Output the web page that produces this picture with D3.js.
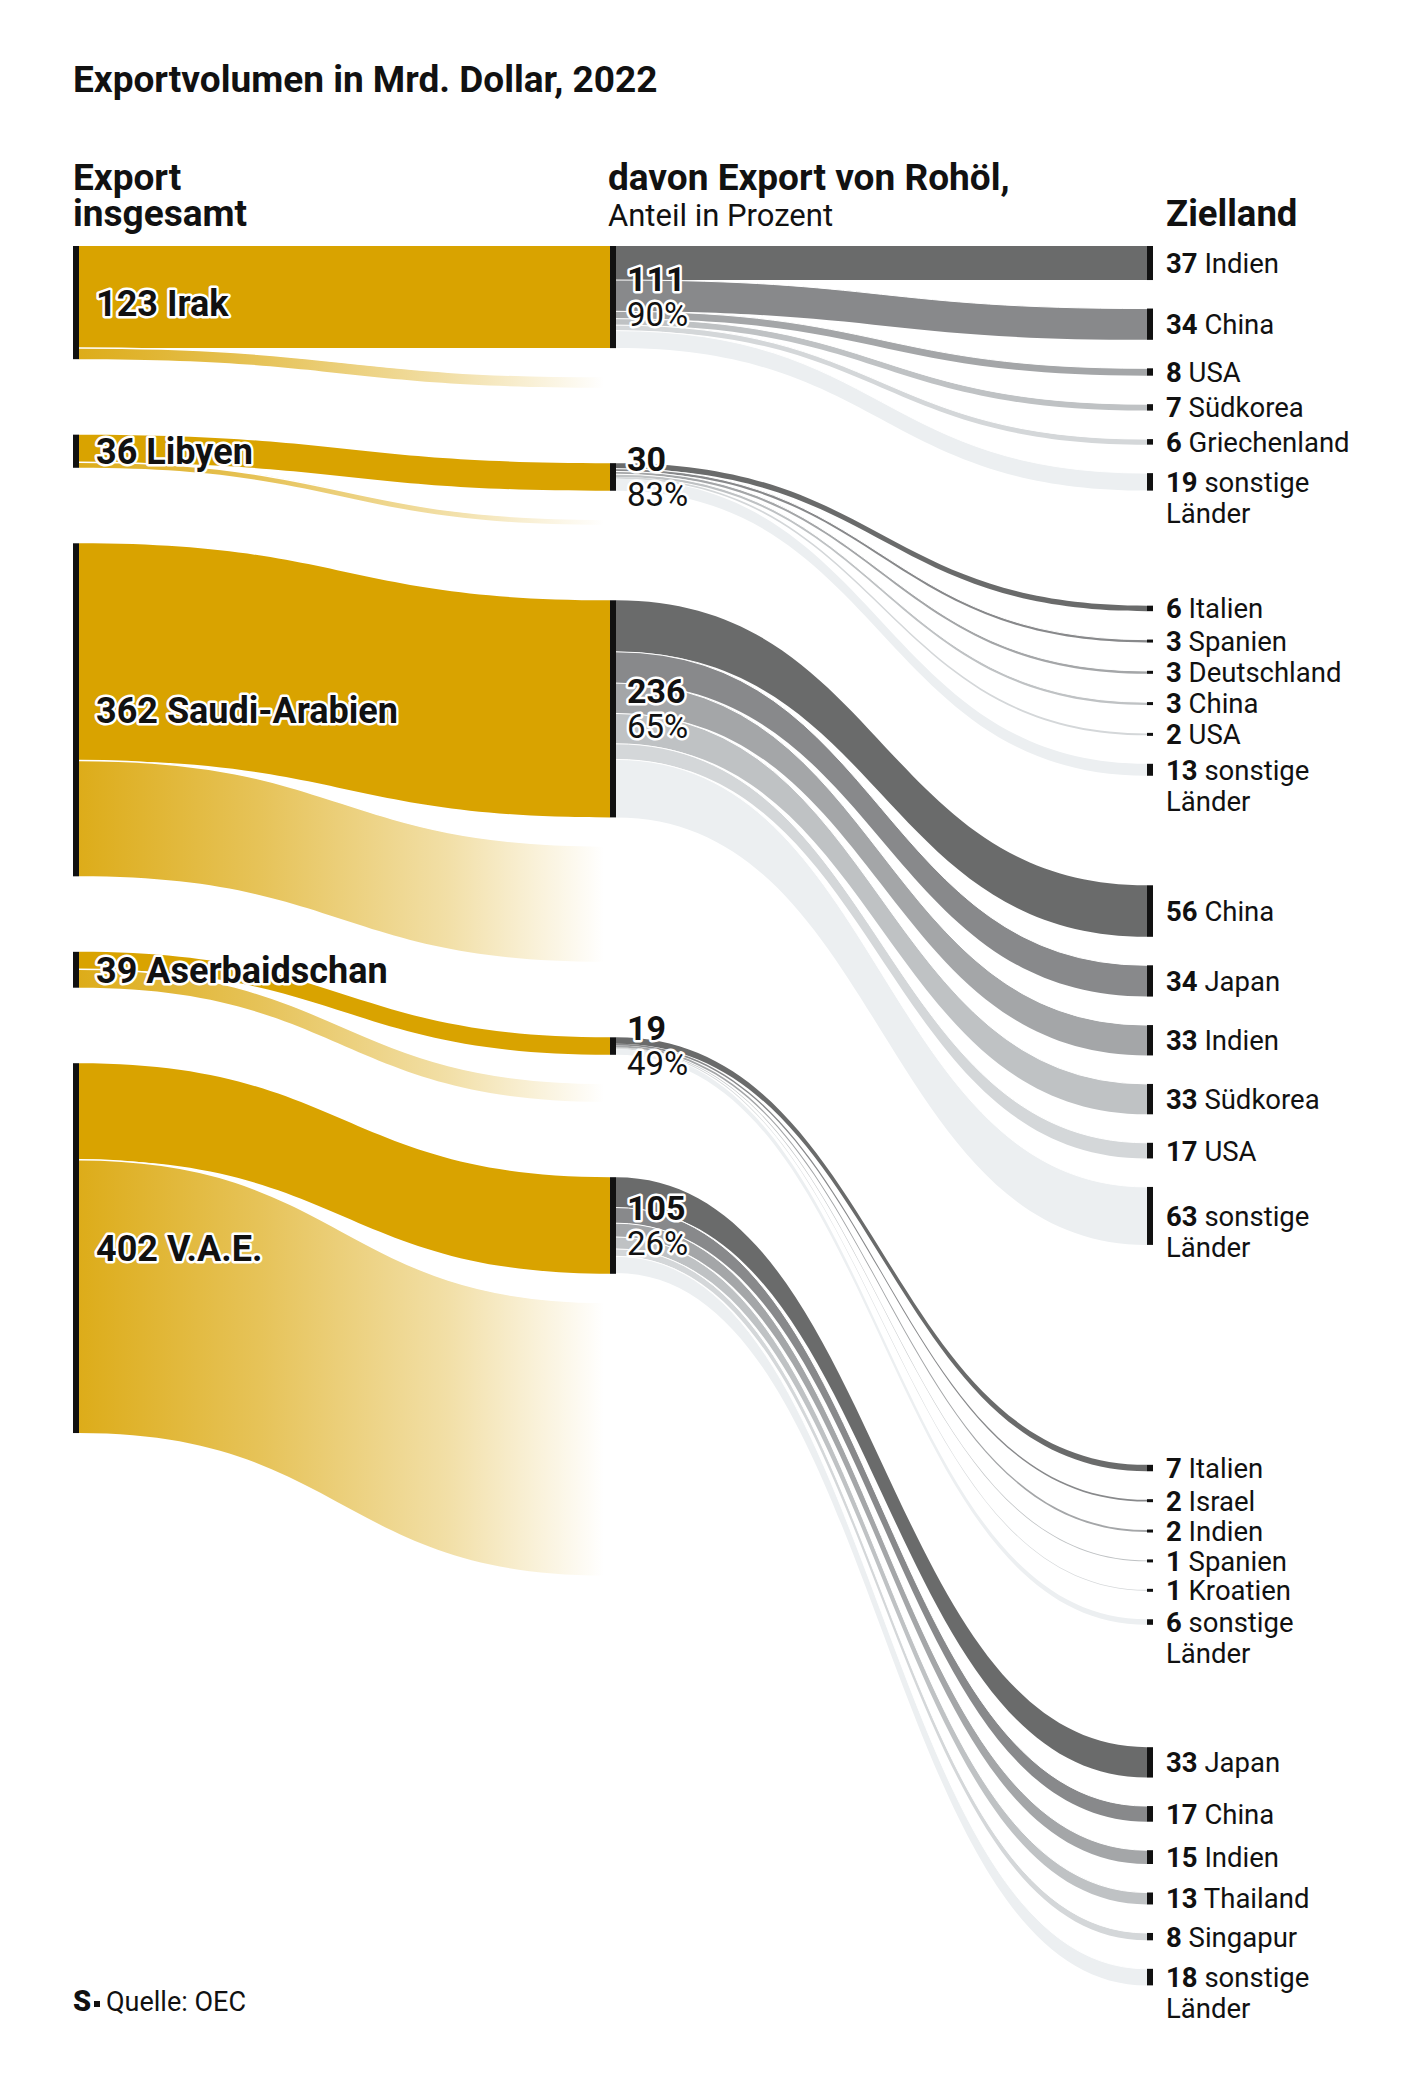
<!DOCTYPE html>
<html lang="de">
<head>
<meta charset="UTF-8">
<title>Exportvolumen Rohöl 2022</title>
<script src="https://d3js.org/d3.v7.min.js"></script>
<style>
  body { margin: 0; background: #fff; }
  svg { display: block; font-family: Roboto, "Open Sans", sans-serif; }
</style>
</head>
<body>
<svg id="chart"></svg>
<script>
// --- data (Mrd. Dollar, 2022) ---
const exporters = ["Irak", "Libyen", "Saudi-Arabien", "Aserbaidschan", "V.A.E."];
const totalExport = [123, 36, 362, 39, 402];
const crudeExport = [111, 30, 236, 19, 105];
const crudeShare = [90, 83, 65, 49, 26];

const destNames = [
  ["Indien", "China", "USA", "Südkorea", "Griechenland", "sonstige"],
  ["Italien", "Spanien", "Deutschland", "China", "USA", "sonstige"],
  ["China", "Japan", "Indien", "Südkorea", "USA", "sonstige"],
  ["Italien", "Israel", "Indien", "Spanien", "Kroatien", "sonstige"],
  ["Japan", "China", "Indien", "Thailand", "Singapur", "sonstige"]
];
const destValues = [
  [37, 34, 8, 7, 6, 19],
  [6, 3, 3, 3, 2, 13],
  [56, 34, 33, 33, 17, 63],
  [7, 2, 2, 1, 1, 6],
  [33, 17, 15, 13, 8, 18]
];

// --- layout ---
const width = 1420, height = 2089;
const xLeft = 73, xMid = 610, xRight = 1147, barW = 6;
const yStart = 246, gapIn = 28.5, gapOut = 75.5;
const gold = "#d9a300";
const greys = ["#6a6b6b", "#88898b", "#a4a6a8", "#bfc2c4", "#d4d7d9", "#eceff1"];

const v = d3.scaleLinear().domain([0, 100]).range([0, 92]);

const svg = d3.select("#chart").attr("width", width).attr("height", height);
svg.append("rect").attr("width", width).attr("height", height).attr("fill", "#fff");

// stack the three columns
const nodes = [];
let yl = yStart, ym = yStart, yr = yStart;
exporters.forEach((name, i) => {
  const n = { name, total: totalExport[i], oil: crudeExport[i], share: crudeShare[i] };
  n.l0 = yl; n.l1 = yl + v(n.total);
  yl = n.l1 + gapOut;
  n.m0 = ym; n.m1 = ym + v(n.oil);
  n.f0 = n.m1 + gapIn; n.f1 = n.f0 + v(n.total - n.oil);
  ym = n.f1 + gapOut;
  n.dest = destNames[i].map((d, j) => {
    const r = { name: d, value: destValues[i][j], j, r0: yr };
    r.r1 = yr + v(r.value);
    yr = r.r1 + gapIn;
    return r;
  });
  yr += v(n.total - n.oil) + gapOut;
  let s = n.m0;
  n.dest.forEach(r => { r.s0 = s; s += v(r.value); r.s1 = s; });
  nodes.push(n);
});

// band between two vertical ranges
function band(x0, a0, a1, x1, b0, b1) {
  const xm = (x0 + x1) / 2;
  return `M${x0},${a0}C${xm},${a0} ${xm},${b0} ${x1},${b0}` +
         `L${x1},${b1}C${xm},${b1} ${xm},${a1} ${x0},${a1}Z`;
}
function edge(x0, a, x1, b) {
  const xm = (x0 + x1) / 2;
  return `M${x0},${a}C${xm},${a} ${xm},${b} ${x1},${b}`;
}

const grad = svg.append("defs").append("linearGradient")
  .attr("id", "fade").attr("gradientUnits", "userSpaceOnUse")
  .attr("x1", xLeft + barW).attr("x2", xMid - 6).attr("y1", 0).attr("y2", 0);
[[0, 0.9], [0.35, 0.65], [0.7, 0.35], [1, 0]].forEach(([o, a]) =>
  grad.append("stop").attr("offset", o).attr("stop-color", gold).attr("stop-opacity", a));

const gLinks = svg.append("g");
nodes.forEach(n => {
  // non-oil exports fading out
  gLinks.append("path")
    .attr("d", band(xLeft + barW, n.l0 + v(n.oil), n.l1, xMid - 6, n.f0, n.f1))
    .attr("fill", "url(#fade)");
  // crude oil
  gLinks.append("path")
    .attr("d", band(xLeft + barW, n.l0, n.l0 + v(n.oil), xMid, n.m0, n.m1))
    .attr("fill", gold);
  gLinks.append("path")
    .attr("d", edge(xLeft + barW, n.l0 + v(n.oil), xMid - 6, n.f0))
    .attr("fill", "none").attr("stroke", "#fff").attr("stroke-width", 1.5);

  // crude oil -> destination
  n.dest.forEach(r => {
    gLinks.append("path")
      .attr("d", band(xMid + barW, r.s0, r.s1, xRight, r.r0, r.r1))
      .attr("fill", greys[r.j]);
  });
  n.dest.forEach(r => {
    if (r.j > 0 && v(r.value) > 2.5 && v(n.dest[r.j - 1].value) > 2.5)
      gLinks.append("path")
        .attr("d", edge(xMid + barW, r.s0, xRight, r.r0))
        .attr("fill", "none").attr("stroke", "#fff").attr("stroke-width", 1);
  });
});

// node bars
const gBars = svg.append("g").attr("fill", "#111");
nodes.forEach(n => {
  gBars.append("rect").attr("x", xLeft).attr("y", n.l0).attr("width", barW).attr("height", n.l1 - n.l0);
  gBars.append("rect").attr("x", xMid).attr("y", n.m0).attr("width", barW).attr("height", n.m1 - n.m0);
  n.dest.forEach(r => {
    const h = Math.max(r.r1 - r.r0, 3);
    gBars.append("rect").attr("x", xRight).attr("y", (r.r0 + r.r1) / 2 - h / 2)
      .attr("width", barW).attr("height", h);
  });
});

// labels
const halo = sel => sel.attr("stroke", "#fff").attr("stroke-width", 5)
  .attr("stroke-linejoin", "round").attr("paint-order", "stroke").attr("fill", "#111");

nodes.forEach(n => {
  svg.append("text").call(halo)
    .attr("x", 96).attr("y", (n.l0 + n.l1) / 2).attr("dy", "0.36em")
    .attr("font-size", 36).attr("font-weight", 700)
    .text(`${n.total} ${n.name}`);
  const c = (n.m0 + n.m1) / 2;
  svg.append("text").call(halo)
    .attr("x", 627).attr("y", c - 6)
    .attr("font-size", 34).attr("font-weight", 700).text(n.oil);
  svg.append("text").call(halo)
    .attr("x", 627).attr("y", c + 29)
    .attr("font-size", 33).attr("font-weight", 400).text(`${n.share}%`);

  n.dest.forEach(r => {
    const t = svg.append("text").attr("x", 1166).attr("y", (r.r0 + r.r1) / 2).attr("dy", "0.36em")
      .attr("font-size", 27.5).attr("fill", "#111");
    t.append("tspan").attr("font-weight", 700).text(r.value);
    t.append("tspan").text(" " + r.name);
    if (r.name === "sonstige")
      t.append("tspan").attr("x", 1166).attr("dy", 31).text("Länder");
  });
});

// headings
const head = (x, y, txt, size, weight) => svg.append("text")
  .attr("x", x).attr("y", y).attr("font-size", size).attr("font-weight", weight)
  .attr("fill", "#111").text(txt);
head(73, 92, "Exportvolumen in Mrd. Dollar, 2022", 37, 700);
head(73, 190, "Export", 37, 700);
head(73, 226, "insgesamt", 37, 700);
head(608, 190, "davon Export von Rohöl,", 37, 700);
head(608, 226, "Anteil in Prozent", 31, 400);
head(1166, 226, "Zielland", 36.5, 700);

// footer
head(73, 2011, "S", 29, 900);
svg.append("rect").attr("x", 94).attr("y", 2001).attr("width", 6).attr("height", 6).attr("fill", "#111");
head(106, 2011, "Quelle: OEC", 27, 400);
</script>
</body>
</html>
